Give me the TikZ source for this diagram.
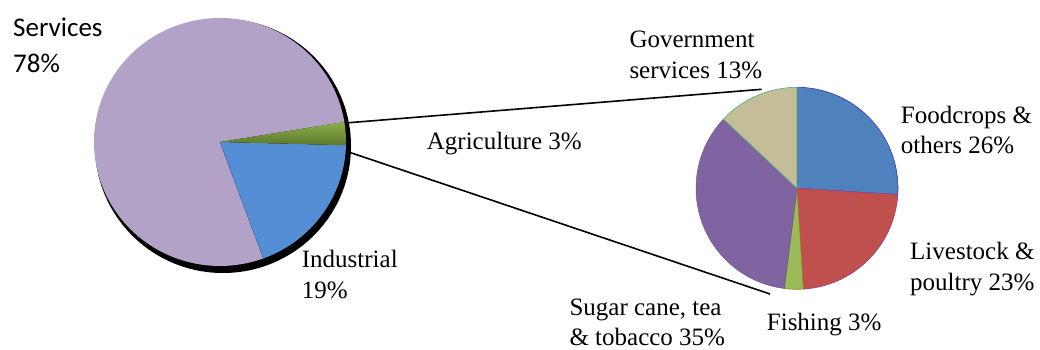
\documentclass[tikz,border=0pt]{standalone}
\usepackage{fontspec}
\setmainfont{Liberation Serif}
\newfontfamily\calib{Carlito}
\definecolor{servc}{HTML}{B3A2C7}
\definecolor{indc}{HTML}{558ED5}
\definecolor{agrtop}{HTML}{8DB04A}
\definecolor{agrbot}{HTML}{5C772B}
\definecolor{foodc}{HTML}{4F81BD}
\definecolor{foode}{HTML}{3A3AA8}
\definecolor{livec}{HTML}{C0504D}
\definecolor{livee}{HTML}{A0407A}
\definecolor{fishc}{HTML}{9BBB59}
\definecolor{fishe}{HTML}{8A8A10}
\definecolor{sugc}{HTML}{8064A2}
\definecolor{govc}{HTML}{C4BD97}
\definecolor{gove}{HTML}{4DAF80}
\tikzset{
  lbl/.style={inner sep=0pt, anchor=base west, align=left, font=\fontsize{25}{31}\selectfont},
  slbl/.style={inner sep=0pt, anchor=base west, align=left, font=\calib\fontsize{27}{36}\selectfont},
  conn/.style={draw=black, line width=1.6pt},
}
\begin{document}
\begin{tikzpicture}[x=1pt,y=1pt]
\useasboundingbox (0,0) rectangle (1040,349);
% left pie
\coordinate (lc) at (220,207);
\fill[black] (223,203) ellipse [x radius=128, y radius=127];
\fill[servc] (lc) -- ++(9.3:126 and 124) arc[start angle=9.3, end angle=290.1, x radius=126, y radius=124] -- cycle;
\fill[indc] (lc) -- ++(-69.9:126 and 124) arc[start angle=-69.9, end angle=-1.5, x radius=126, y radius=124] -- cycle;
\shade[top color=agrtop, bottom color=agrbot] (lc) -- ++(-1.5:126 and 124) arc[start angle=-1.5, end angle=9.3, x radius=126, y radius=124] -- cycle;
\draw[indc!70!black, line width=0.3pt] (lc) -- ++(-69.9:126 and 124);
% right pie
\coordinate (rc) at (797,160.7);
\filldraw[fill=foodc, draw=foode, line width=0.6pt] (rc) -- ++(90:101) arc[start angle=90, end angle=-3.6, radius=101] -- cycle;
\filldraw[fill=livec, draw=livee, line width=0.6pt] (rc) -- ++(-3.6:101) arc[start angle=-3.6, end angle=-86.4, radius=101] -- cycle;
\filldraw[fill=fishc, draw=fishe, line width=0.6pt] (rc) -- ++(-86.4:101) arc[start angle=-86.4, end angle=-97.2, radius=101] -- cycle;
\filldraw[fill=sugc, draw=sugc!80!black, line width=0.4pt] (rc) -- ++(-97.2:101) arc[start angle=-97.2, end angle=-223.2, radius=101] -- cycle;
\filldraw[fill=govc, draw=gove, line width=0.6pt] (rc) -- ++(-223.2:101) arc[start angle=-223.2, end angle=-270, radius=101] -- cycle;
% connectors
\coordinate (a1) at (349,226.3);
\coordinate (b1) at (761.7,259.7);
\coordinate (a2) at (350.7,196.3);
\coordinate (b2) at (770,55);
\draw[conn] (a1) -- (b1);
\draw[conn] (a2) -- (b2);
% labels (anchor = baseline of last line)
\node[slbl] (serv) at (13,276.3) {Services\\78\%};
\node[lbl] (ind) at (301.7,50.7) {Industrial\\19\%};
\node[lbl] (agr) at (426.7,199.7) {Agriculture 3\%};
\node[lbl] (gov) at (629.3,270.7) {Government\\services 13\%};
\node[lbl, font=\fontsize{25}{30}\selectfont] (food) at (900.7,196) {Foodcrops \&\\others 26\%};
\node[lbl] (live) at (910,59) {Livestock \&\\poultry 23\%};
\node[lbl] (fish) at (766.7,19) {Fishing 3\%};
\node[lbl, font=\fontsize{25}{30}\selectfont] (sug) at (569.3,4) {Sugar cane, tea\\\& tobacco 35\%};
\end{tikzpicture}
\end{document}
